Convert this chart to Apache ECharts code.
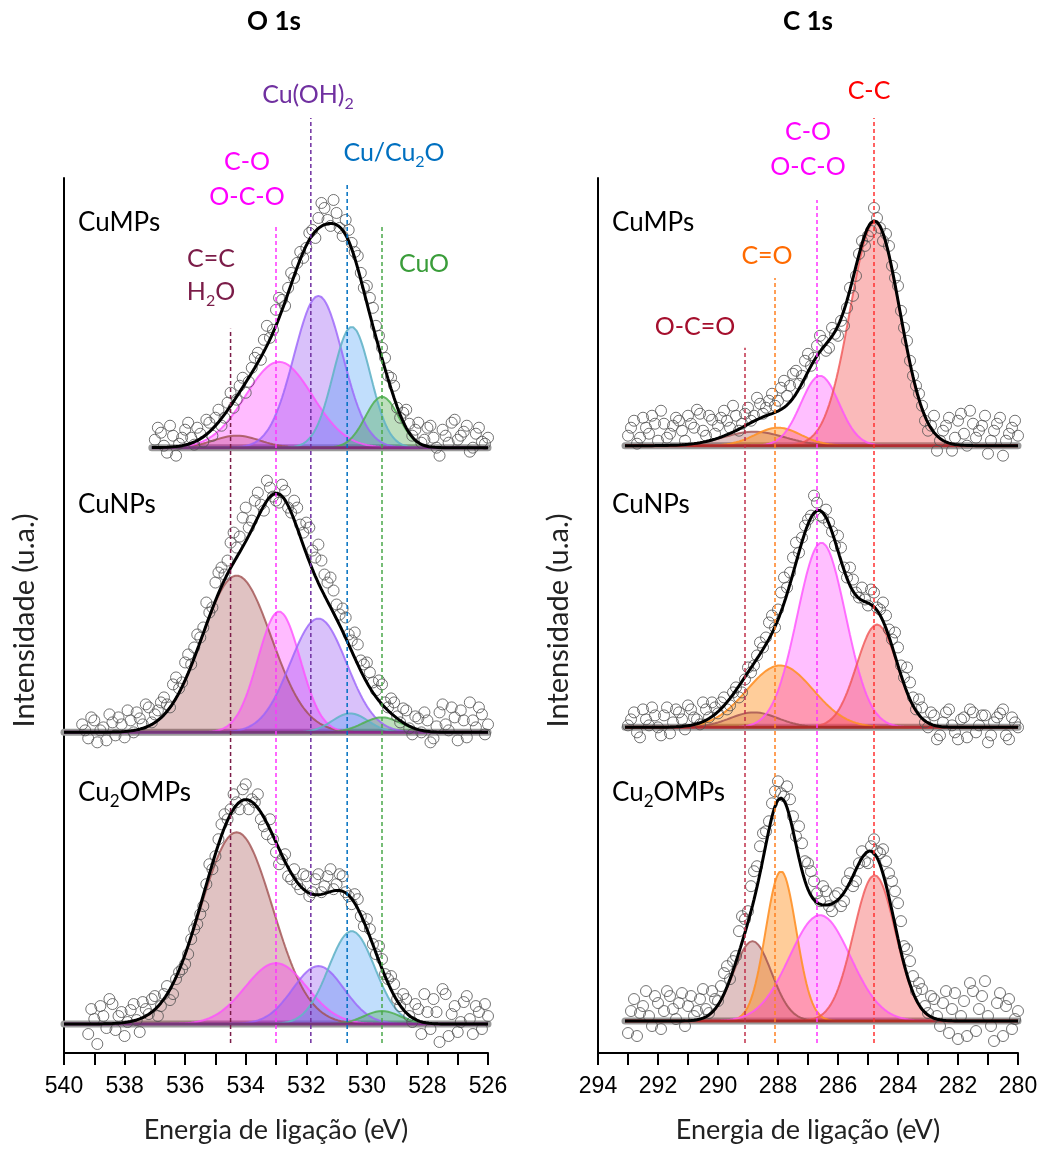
<!DOCTYPE html>
<html><head><meta charset="utf-8">
<script src="https://cdn.jsdelivr.net/npm/echarts@6/dist/echarts.min.js"></script>
<style>html,body{margin:0;padding:0;background:#fff}#c{width:1046px;height:1149px}</style>
</head><body><div id="c"></div><script>
// ---------- DATA ----------
// Binding-energy sampling of the raw data (eV): main points and the interleaved half-step points
const oEnergy = [539.4,539.2,539.0,538.8,538.6,538.4,538.2,538.0,537.8,537.6,537.4,537.2,537.0,536.8,536.6,536.4,536.2,536.0,535.8,535.6,535.4,535.2,535.0,534.8,534.6,534.4,534.2,534.0,533.8,533.6,533.4,533.2,533.0,532.8,532.6,532.4,532.2,532.0,531.8,531.6,531.4,531.2,531.0,530.8,530.6,530.4,530.2,530.0,529.8,529.6,529.4,529.2,529.0,528.8,528.6,528.4,528.2,528.0,527.8,527.6,527.4,527.2,527.0,526.8,526.6,526.4,526.2,526.0];
const oEnergyB = [539.3,539.1,538.9,538.7,538.5,538.3,538.1,537.9,537.7,537.5,537.3,537.1,536.9,536.7,536.5,536.3,536.1,535.9,535.7,535.5,535.3,535.1,534.9,534.7,534.5,534.3,534.1,533.9,533.7,533.5,533.3,533.1,532.9,532.7,532.5,532.3,532.1,531.9,531.7,531.5,531.3,531.1,530.9,530.7,530.5,530.3,530.1,529.9,529.7,529.5,529.3,529.1,528.9,528.7,528.5,528.3,528.1,527.9,527.7,527.5,527.3,527.1,526.9,526.7,526.5,526.3,526.1];
const cEnergy = [293.0,292.8,292.6,292.4,292.2,292.0,291.8,291.6,291.4,291.2,291.0,290.8,290.6,290.4,290.2,290.0,289.8,289.6,289.4,289.2,289.0,288.8,288.6,288.4,288.2,288.0,287.8,287.6,287.4,287.2,287.0,286.8,286.6,286.4,286.2,286.0,285.8,285.6,285.4,285.2,285.0,284.8,284.6,284.4,284.2,284.0,283.8,283.6,283.4,283.2,283.0,282.8,282.6,282.4,282.2,282.0,281.8,281.6,281.4,281.2,281.0,280.8,280.6,280.4,280.2,280.0];
const cEnergyB = [292.9,292.7,292.5,292.3,292.1,291.9,291.7,291.5,291.3,291.1,290.9,290.7,290.5,290.3,290.1,289.9,289.7,289.5,289.3,289.1,288.9,288.7,288.5,288.3,288.1,287.9,287.7,287.5,287.3,287.1,286.9,286.7,286.5,286.3,286.1,285.9,285.7,285.5,285.3,285.1,284.9,284.7,284.5,284.3,284.1,283.9,283.7,283.5,283.3,283.1,282.9,282.7,282.5,282.3,282.1,281.9,281.7,281.5,281.3,281.1,280.9,280.7,280.5,280.3,280.1];

// O 1s raw intensities (a.u. above each spectrum's baseline)
const oCuMPs = [null,null,null,null,null,null,null,null,null,null,null,null,
  8,15,-5,12,4,18,10,20,6,25,30,22,45,40,62,55,80,95,108,110,138,148,160,170,196,200,218,230,240,222,
  235,212,218,196,175,162,140,112,90,70,40,35,24,18,5,20,10,-8,12,25,8,16,-4,14,6,10];
const oCuMPsB = [null,null,null,null,null,null,null,null,null,null,null,null,
  20,2,22,-8,10,25,3,14,28,12,38,30,55,48,70,66,90,88,122,118,150,142,175,185,190,215,210,245,228,248,
  220,228,205,192,160,150,122,100,72,62,30,38,12,25,8,22,0,18,5,28,12,22,0,20,4];
const oCuNPs = [8,-6,12,2,-8,10,15,-5,12,20,8,25,18,30,28,48,44,70,68,98,105,120,150,165,172,200,196,225,212,240,
  222,245,232,248,225,232,208,210,182,188,158,155,128,124,98,100,72,70,50,52,30,34,16,24,4,16,0,12,-6,20,8,25,-8,12,30,5,18,8];
const oCuNPsB = [2,15,-10,5,18,-3,8,22,0,14,28,10,22,35,25,55,50,78,85,95,130,125,160,158,190,185,215,205,232,228,
  252,236,230,242,220,225,200,205,175,172,150,142,118,115,92,88,68,60,42,48,25,30,10,22,-2,14,20,-10,6,28,2,15,22,-5,12,25,-2];
const oCu2OMPs = [null,-10,5,18,-4,20,8,-12,14,4,22,10,28,18,38,30,52,60,85,100,118,160,168,200,205,230,215,240,225,230,198,
  205,172,165,148,155,135,148,132,150,138,155,140,148,128,130,108,105,80,78,50,48,25,30,8,20,-10,12,25,-18,30,10,-8,22,5,18,-5,8];
const oCu2OMPsB = [null,15,-20,8,25,-6,12,2,20,-8,15,25,8,30,24,45,55,70,95,110,140,155,185,210,215,222,235,215,222,205,
  190,185,160,170,145,140,150,128,145,132,148,135,150,132,120,125,98,95,70,65,45,40,18,25,2,15,30,-5,12,35,-12,18,2,28,-10,12,20];

// C 1s raw intensities
const cCuMPs = [10,25,8,18,30,5,22,12,28,15,30,18,32,10,26,20,35,18,30,22,38,30,42,38,52,45,65,60,75,70,
  92,88,110,95,118,110,120,158,170,205,210,238,218,212,180,160,118,85,60,40,15,30,5,20,-5,25,12,35,8,20,-8,15,28,5,18,10];
const cCuMPsB = [18,2,28,12,22,35,8,20,25,5,22,36,15,30,12,28,25,40,15,32,25,48,32,45,40,58,50,72,62,85,
  80,100,105,98,112,125,138,150,192,200,215,228,205,200,168,135,105,70,52,25,20,-5,15,28,8,32,0,22,15,30,5,22,-10,12,25];
const cCuNPs = [2,15,-10,8,20,0,12,-6,18,8,22,10,3,18,25,14,30,22,40,35,60,62,85,90,112,118,150,155,185,190,
  208,232,212,218,196,192,160,160,135,140,122,135,118,112,88,80,50,45,18,20,0,12,-8,15,2,-12,10,18,-5,12,-15,5,14,-8,10,0];
const cCuNPsB = [8,-5,18,2,12,-8,20,5,15,-2,18,8,25,10,20,25,18,35,30,48,55,72,80,105,100,135,140,170,175,202,
  212,225,210,205,182,180,150,148,130,128,138,120,125,98,95,62,60,30,28,5,15,-12,5,18,-5,8,-10,15,2,12,-8,10,18,-12,5];
const cCu2OMPs = [-12,22,8,30,-5,18,10,25,2,28,15,5,22,12,30,20,48,42,65,105,110,150,175,190,218,240,225,222,185,178,
  158,140,120,130,110,128,120,148,140,170,158,182,168,160,140,118,75,60,30,32,8,22,-5,30,12,-18,20,38,-10,25,5,-20,28,15,-8,10];
const cCu2OMPsB = [10,-15,15,5,25,-8,30,12,18,-5,25,10,32,8,22,35,55,60,90,102,135,155,188,200,230,228,235,205,195,160,
  150,128,135,115,125,115,140,135,158,160,175,170,172,148,130,100,72,45,38,15,25,5,18,-12,28,5,-15,30,12,40,-5,18,-15,22,2];

// Fitted components: centre (eV), height (a.u.), FWHM (eV)
// O 1s order: C=C/H2O, C-O/O-C-O, Cu(OH)2, Cu/Cu2O, CuO
const oCuMPsCenter = [534.3, 532.9, 531.6, 530.5, 529.5];
const oCuMPsHeight = [12, 86, 152, 121, 51];
const oCuMPsFwhm   = [1.8, 2.6, 1.9, 1.45, 1.3];
const oCuNPsCenter = [534.3, 532.9, 531.6, 530.55, 529.5];
const oCuNPsHeight = [157, 121, 114, 19, 15];
const oCuNPsFwhm   = [2.7, 1.65, 2.2, 1.4, 1.5];
const oCu2OMPsCenter = [534.3, 533.0, 531.6, 530.5, 529.5];
const oCu2OMPsHeight = [192, 61, 58, 93, 13];
const oCu2OMPsFwhm   = [2.8, 2.4, 2.0, 1.8, 1.4];
// C 1s order: O-C=O, C=O, C-O/O-C-O, C-C
const cCuMPsCenter = [288.8, 288.0, 286.6, 284.77];
const cCuMPsHeight = [14, 18, 70, 224];
const cCuMPsFwhm   = [2.4, 1.8, 1.5, 1.95];
const cCuNPsCenter = [288.8, 287.93, 286.55, 284.7];
const cCuNPsHeight = [15, 62, 185, 103];
const cCuNPsFwhm   = [1.9, 2.6, 1.9, 1.6];
const cCu2OMPsCenter = [288.85, 287.9, 286.6, 284.78];
const cCu2OMPsHeight = [80, 150, 106, 146];
const cCu2OMPsFwhm   = [1.5, 1.2, 2.4, 1.65];

// Vertical stacking offsets of the spectra (a.u.) and fitted ranges (eV)
const oOffsets = [606, 321, 29];
const cOffsets = [608, 326, 32];
const oRanges = [[537.1, 526], [540, 526], [540, 526]];
const cRanges = [[293.1, 280], [293.1, 280], [293.1, 280]];

// Reference energies of the assignments (eV)
const oRefEnergy = [534.5, 533.0, 531.85, 530.65, 529.5];
const cRefEnergy = [289.1, 288.1, 286.7, 284.8];

// Axis texts
const xName = 'Energia de ligação (eV)';
const yName = 'Intensidade (u.a.)';

// ---------- STYLE ----------
const FONT = 'Lato, "Open Sans", sans-serif';
const TICKFONT = '"Liberation Sans", Arial, sans-serif';
const oFills = ['rgba(160,65,65,0.46)','rgba(255,0,255,0.38)','rgba(135,60,240,0.45)','rgba(70,155,245,0.48)','rgba(60,160,60,0.48)'];
const oStrokes = ['rgba(160,80,80,0.8)','rgba(255,80,255,0.8)','rgba(155,100,250,0.8)','rgba(100,180,200,0.9)','rgba(80,175,80,0.85)'];
const cFills = ['rgba(160,65,65,0.46)','rgba(255,135,15,0.6)','rgba(255,0,255,0.36)','rgba(240,60,60,0.5)'];
const cStrokes = ['rgba(160,80,80,0.8)','rgba(255,145,40,0.9)','rgba(255,80,255,0.8)','rgba(240,85,85,0.8)'];
const oBaseColor = 'rgba(125,35,125,0.85)';
const cBaseColor = 'rgba(170,40,35,0.9)';
const oRefColors = ['#7b1c48','#ff33ff','#7030a0','#0070c0','#4aa84a'];
const cRefColors = ['#c0304a','#ff8020','#ff33ff','#ff3030'];
const oRefTop = [725, 828, 936, 869, 827];
const cRefTop = [706, 776, 854, 936];

function gauss(E, c, h, w) { return h * Math.exp(-4 * Math.LN2 * (E - c) * (E - c) / (w * w)); }
function fineGrid(hi, lo) { const a = []; for (let k = 0; ; k++) { const e = hi - k * 0.05; if (e < lo - 1e-9) break; a.push(+e.toFixed(3)); } return a; }

const series = [];
function pairs(energies, values, offset) {
  const pts = [];
  energies.forEach((e, i) => { if (values[i] !== null && values[i] !== undefined) pts.push([e, offset + values[i]]); });
  return pts;
}
function addSpectrum(g, energies, values, energiesB, valuesB, centers, heights, fwhms, offset, range, fills, strokes, baseColor) {
  const grid = fineGrid(range[0], range[1]);
  series.push({ type: 'line', xAxisIndex: g, yAxisIndex: g, data: [[range[0], offset], [range[1], offset]],
    symbol: 'none', lineStyle: { color: '#9a9a9a', width: 7, cap: 'round' }, silent: true, z: 2 });
  centers.forEach((c, k) => {
    series.push({ type: 'line', xAxisIndex: g, yAxisIndex: g, symbol: 'none', silent: true, z: 3,
      data: grid.map(e => [e, offset + gauss(e, c, heights[k], fwhms[k])]),
      lineStyle: { color: strokes[k], width: 2 }, areaStyle: { color: fills[k], origin: offset } });
  });
  series.push({ type: 'line', xAxisIndex: g, yAxisIndex: g, data: [[range[0], offset], [range[1], offset]],
    symbol: 'none', lineStyle: { color: baseColor, width: 3 }, silent: true, z: 3 });
  series.push({ type: 'scatter', xAxisIndex: g, yAxisIndex: g,
    data: pairs(energies, values, offset).concat(pairs(energiesB, valuesB, offset)),
    symbol: 'circle', symbolSize: 11,
    itemStyle: { color: 'rgba(255,255,255,0)', borderColor: '#505050', borderWidth: 1 }, clip: false, silent: true, z: 4 });
  series.push({ type: 'line', xAxisIndex: g, yAxisIndex: g, symbol: 'none', silent: true, z: 5,
    data: grid.map(e => [e, offset + centers.reduce((s, c, k) => s + gauss(e, c, heights[k], fwhms[k]), 0)]),
    lineStyle: { color: '#000', width: 3 } });
}
addSpectrum(0, oEnergy, oCuMPs, oEnergyB, oCuMPsB, oCuMPsCenter, oCuMPsHeight, oCuMPsFwhm, oOffsets[0], oRanges[0], oFills, oStrokes, oBaseColor);
addSpectrum(0, oEnergy, oCuNPs, oEnergyB, oCuNPsB, oCuNPsCenter, oCuNPsHeight, oCuNPsFwhm, oOffsets[1], oRanges[1], oFills, oStrokes, oBaseColor);
addSpectrum(0, oEnergy, oCu2OMPs, oEnergyB, oCu2OMPsB, oCu2OMPsCenter, oCu2OMPsHeight, oCu2OMPsFwhm, oOffsets[2], oRanges[2], oFills, oStrokes, oBaseColor);
addSpectrum(1, cEnergy, cCuMPs, cEnergyB, cCuMPsB, cCuMPsCenter, cCuMPsHeight, cCuMPsFwhm, cOffsets[0], cRanges[0], cFills, cStrokes, cBaseColor);
addSpectrum(1, cEnergy, cCuNPs, cEnergyB, cCuNPsB, cCuNPsCenter, cCuNPsHeight, cCuNPsFwhm, cOffsets[1], cRanges[1], cFills, cStrokes, cBaseColor);
addSpectrum(1, cEnergy, cCu2OMPs, cEnergyB, cCu2OMPsB, cCu2OMPsCenter, cCu2OMPsHeight, cCu2OMPsFwhm, cOffsets[2], cRanges[2], cFills, cStrokes, cBaseColor);

function addRefLines(g, energies, tops, colors) {
  energies.forEach((e, k) => {
    series.push({ type: 'line', xAxisIndex: g, yAxisIndex: g, data: [[e, 10], [e, tops[k]]], symbol: 'none',
      clip: false, silent: true, z: 6, lineStyle: { color: colors[k], width: 1.5, type: [4, 3] } });
  });
}
addRefLines(0, oRefEnergy, oRefTop, oRefColors);
addRefLines(1, cRefEnergy, cRefTop, cRefColors);

function xAxisCfg(g, min, max) {
  return { gridIndex: g, type: 'value', inverse: true, min: min, max: max, interval: 2,
    axisLine: { onZero: false, lineStyle: { color: '#000', width: 2 } },
    axisTick: { show: true, length: 12, lineStyle: { color: '#000', width: 2 } },
    minorTick: { show: true, splitNumber: 2, length: 12, lineStyle: { color: '#000', width: 2 } },
    splitLine: { show: false }, minorSplitLine: { show: false },
    axisLabel: { fontSize: 23, color: '#000', margin: 22, fontFamily: TICKFONT },
    name: xName, nameLocation: 'middle', nameGap: 64,
    nameTextStyle: { fontSize: 27, color: '#222', fontFamily: FONT } };
}
function yAxisCfg(g) {
  return { gridIndex: g, type: 'value', min: 0, max: 876,
    axisLine: { show: true, onZero: false, lineStyle: { color: '#000', width: 2 } },
    axisTick: { show: false }, axisLabel: { show: false }, splitLine: { show: false },
    name: yName, nameLocation: 'middle', nameGap: 25, nameRotate: 90,
    nameTextStyle: { fontSize: 29, color: '#222', fontFamily: FONT, padding: [0, 10, 0, 0] } };
}

function txt(text, x, y, color, size, align, bold) {
  const rich = { s: { fontSize: Math.round(size * 0.64), lineHeight: 16, verticalAlign: 'bottom', fontFamily: FONT, fill: color } };
  return { type: 'text', x: x, y: y, z: 100, silent: true,
    style: { text: text, fill: color, fontSize: size, fontFamily: FONT, fontWeight: bold ? 'bold' : 'normal',
      align: align || 'center', verticalAlign: 'middle', lineHeight: 34, rich: rich } };
}
const graphics = [
  txt('O 1s', 274, 22, '#000', 26, 'center', true),
  txt('C 1s', 808, 22, '#000', 26, 'center', true),
  txt('Cu(OH){s|2}', 308, 95, '#7030a0', 25),
  txt('Cu/Cu{s|2}O', 394, 153, '#0070c0', 25),
  txt('C-O', 247, 162, '#ff00ff', 25),
  txt('O-C-O', 247, 197, '#ff00ff', 25),
  txt('C=C', 211, 259, '#7b1c48', 25),
  txt('H{s|2}O', 211, 292, '#7b1c48', 25),
  txt('CuO', 424, 264, '#3a9d3a', 25),
  txt('C-C', 869, 91, '#ff0000', 25),
  txt('C-O', 808, 132, '#ff00ff', 25),
  txt('O-C-O', 808, 167, '#ff00ff', 25),
  txt('C=O', 767, 256, '#ff6a00', 25),
  txt('O-C=O', 695, 327, '#a50f2d', 25),
  txt('CuMPs', 78, 223, '#000', 26, 'left'),
  txt('CuNPs', 78, 505, '#000', 26, 'left'),
  txt('Cu{s|2}OMPs', 78, 793, '#000', 26, 'left'),
  txt('CuMPs', 612, 223, '#000', 26, 'left'),
  txt('CuNPs', 612, 505, '#000', 26, 'left'),
  txt('Cu{s|2}OMPs', 612, 793, '#000', 26, 'left')
];

const chart = echarts.init(document.getElementById('c'), null, { renderer: 'canvas' });
chart.setOption({
  animation: false,
  backgroundColor: '#fff',
  grid: [
    { left: 64, right: 558, top: 178, bottom: 95 },
    { left: 598, right: 28, top: 178, bottom: 95 }
  ],
  xAxis: [xAxisCfg(0, 526, 540), xAxisCfg(1, 280, 294)],
  yAxis: [yAxisCfg(0), yAxisCfg(1)],
  series: series,
  graphic: graphics
});
</script></body></html>
